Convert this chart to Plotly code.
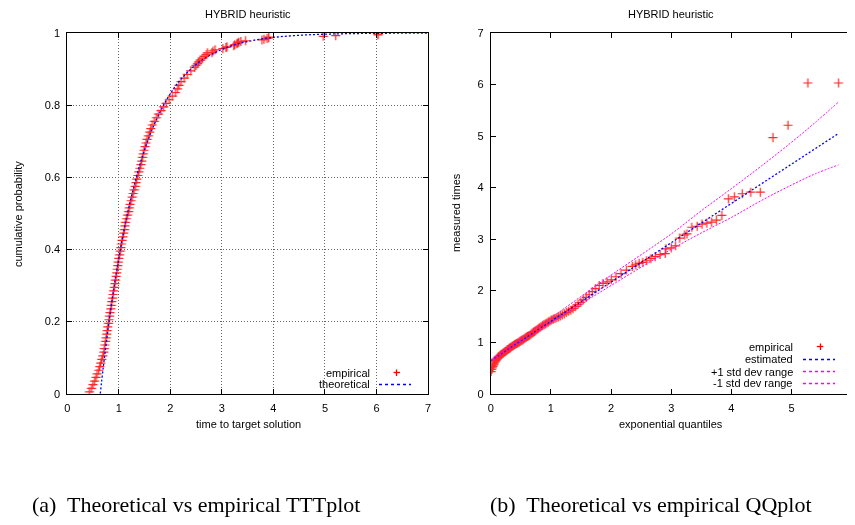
import plotly.graph_objects as go

# ---------------- data ----------------
# empirical run times (sorted), their cumulative probabilities and exponential quantiles
ttt_prob = [0.005, 0.015, 0.025, 0.035, 0.045, 0.055, 0.065, 0.075, 0.085, 0.095,
            0.105, 0.115, 0.125, 0.135, 0.145, 0.155, 0.165, 0.175, 0.185, 0.195,
            0.205, 0.215, 0.225, 0.235, 0.245, 0.255, 0.265, 0.275, 0.285, 0.295,
            0.305, 0.315, 0.325, 0.335, 0.345, 0.355, 0.365, 0.375, 0.385, 0.395,
            0.405, 0.415, 0.425, 0.435, 0.445, 0.455, 0.465, 0.475, 0.485, 0.495,
            0.505, 0.515, 0.525, 0.535, 0.545, 0.555, 0.565, 0.575, 0.585, 0.595,
            0.605, 0.615, 0.625, 0.635, 0.645, 0.655, 0.665, 0.675, 0.685, 0.695,
            0.705, 0.715, 0.725, 0.735, 0.745, 0.755, 0.765, 0.775, 0.785, 0.795,
            0.805, 0.815, 0.825, 0.835, 0.845, 0.855, 0.865, 0.875, 0.885, 0.895,
            0.905, 0.91, 0.915, 0.92, 0.925, 0.93, 0.935, 0.94, 0.945,
            0.9455, 0.9502, 0.9536, 0.9567, 0.9600, 0.9616, 0.9646, 0.9676, 0.9701, 0.9724,
            0.9745, 0.9765, 0.9785, 0.9807, 0.9826, 0.9847, 0.9867, 0.9887, 0.9908, 0.9928,
            0.9949, 0.9969]
ttt_time = [0.43, 0.47, 0.50, 0.53, 0.56, 0.58, 0.61, 0.63, 0.65, 0.67,
            0.69, 0.71, 0.72, 0.73, 0.745, 0.755, 0.765, 0.775, 0.785, 0.80,
            0.81, 0.82, 0.83, 0.845, 0.855, 0.865, 0.88, 0.89, 0.90, 0.915,
            0.925, 0.935, 0.95, 0.96, 0.97, 0.98, 0.99, 1.00, 1.015, 1.03,
            1.04, 1.05, 1.065, 1.08, 1.095, 1.11, 1.12, 1.13, 1.15, 1.17,
            1.19, 1.205, 1.22, 1.24, 1.26, 1.28, 1.30, 1.32, 1.335, 1.35,
            1.37, 1.39, 1.41, 1.43, 1.445, 1.46, 1.475, 1.49, 1.51, 1.53,
            1.55, 1.575, 1.60, 1.62, 1.65, 1.69, 1.73, 1.77, 1.82, 1.87,
            1.92, 1.98, 2.04, 2.10, 2.14, 2.17, 2.21, 2.27, 2.33, 2.40,
            2.47, 2.50, 2.53, 2.55, 2.58, 2.62, 2.66, 2.70, 2.72,
            2.81, 2.83, 2.87, 3.02, 3.08, 3.10, 3.23, 3.25, 3.29, 3.31,
            3.33, 3.37, 3.46, 3.78, 3.82, 3.88, 3.91, 3.91, 4.97, 5.21,
            6.03, 6.03]
qq_quantile = [0.005, 0.015, 0.025, 0.036, 0.046, 0.057, 0.067, 0.078, 0.089, 0.100,
               0.111, 0.122, 0.134, 0.145, 0.157, 0.168, 0.180, 0.192, 0.205, 0.217,
               0.229, 0.242, 0.255, 0.268, 0.281, 0.294, 0.308, 0.322, 0.335, 0.350,
               0.364, 0.378, 0.393, 0.408, 0.423, 0.439, 0.454, 0.470, 0.486, 0.503,
               0.519, 0.536, 0.553, 0.571, 0.589, 0.607, 0.625, 0.644, 0.664, 0.683,
               0.703, 0.724, 0.744, 0.766, 0.787, 0.810, 0.832, 0.856, 0.879, 0.904,
               0.929, 0.955, 0.981, 1.008, 1.036, 1.064, 1.094, 1.124, 1.155, 1.187,
               1.221, 1.255, 1.291, 1.328, 1.366, 1.407, 1.448, 1.492, 1.537, 1.585,
               1.635, 1.687, 1.743, 1.802, 1.864, 1.931, 2.002, 2.079, 2.163, 2.254,
               2.354, 2.408, 2.465, 2.526, 2.590, 2.659, 2.733, 2.813, 2.900,
               2.91, 3.00, 3.07, 3.14, 3.22, 3.26, 3.34, 3.43, 3.51, 3.59,
               3.67, 3.75, 3.84, 3.95, 4.05, 4.18, 4.32, 4.48, 4.69, 4.94,
               5.27, 5.78]

# theoretical (fitted shifted exponential) distribution
theory_time = [0.64, 0.7, 0.8, 0.9, 1.0, 1.1, 1.2, 1.4, 1.6, 1.8, 2.0, 2.2, 2.5,
               2.8, 3.2, 3.6, 4.0, 4.5, 5.0, 5.5, 6.0, 6.5, 7.0]
theory_prob = [0.0, 0.0756, 0.189, 0.289, 0.376, 0.453, 0.520, 0.631, 0.716, 0.781,
               0.832, 0.871, 0.9127, 0.9410, 0.9651, 0.9793, 0.9878, 0.99365, 0.9967,
               0.99829, 0.99911, 0.99954, 0.99976]

# QQ plot: estimated line and +/- 1 std dev range
est_quantile = [0.0, 5.78]
est_time = [0.64, 5.05]
std_quantile = [0.0, 1.0, 2.0, 3.0, 3.5, 4.0, 4.5, 5.0, 5.4, 5.78]
upper_time = [0.66, 1.47, 2.30, 3.10, 3.55, 3.98, 4.42, 4.88, 5.27, 5.66]
lower_time = [0.64, 1.38, 2.10, 2.80, 3.12, 3.42, 3.75, 4.05, 4.27, 4.44]

# ---------------- figure ----------------
# the page has an 8px body margin, so the figure is drawn 8px smaller and all
# positions below are given in window pixels
OFF = 8
W, H = 855 - OFF, 525 - OFF
def px(x):
    return (x - OFF) / W
def py(y):
    return 1 - (y - OFF) / H

SANS = "Liberation Sans, Arial, sans-serif"
SERIF = "Liberation Serif, Times New Roman, serif"
MAG_DASH = "2px,1.5px"
BLUE_DASH = "2px,2px"

fig = go.Figure()

cross = dict(symbol="cross-thin", size=6.5, color="#ff0000",
             line=dict(color="#ff0000", width=1.2))

fig.add_trace(go.Scatter(x=ttt_time, y=ttt_prob, mode="markers", marker=cross,
                         opacity=0.85, xaxis="x", yaxis="y", showlegend=False))
fig.add_trace(go.Scatter(x=theory_time, y=theory_prob, mode="lines",
                         line=dict(color="#0000ff", dash=BLUE_DASH, width=1.3, shape="spline"),
                         xaxis="x", yaxis="y", showlegend=False))

fig.add_trace(go.Scatter(x=qq_quantile, y=ttt_time, mode="markers", marker=cross,
                         opacity=0.85, xaxis="x2", yaxis="y2", showlegend=False))
fig.add_trace(go.Scatter(x=est_quantile, y=est_time, mode="lines",
                         line=dict(color="#0000ff", dash=BLUE_DASH, width=1.3),
                         xaxis="x2", yaxis="y2", showlegend=False))
fig.add_trace(go.Scatter(x=std_quantile, y=upper_time, mode="lines",
                         line=dict(color="#ff00ff", dash=MAG_DASH, width=1, shape="spline"),
                         xaxis="x2", yaxis="y2", showlegend=False))
fig.add_trace(go.Scatter(x=std_quantile, y=lower_time, mode="lines",
                         line=dict(color="#ff00ff", dash=MAG_DASH, width=1, shape="spline"),
                         xaxis="x2", yaxis="y2", showlegend=False))

axis_common = dict(showline=True, linecolor="black", linewidth=1, mirror="ticks",
                   ticks="inside", ticklen=5, tickcolor="black", zeroline=False,
                   automargin=False,
                   tickfont=dict(family=SANS, size=11, color="black"),
                   ticklabelstandoff=4)

grid = dict(showgrid=True, gridcolor="#666666", griddash="1px,2px", gridwidth=1)

ydom = [py(393.7), py(33)]
fig.update_layout(
    template="none",
    width=W, height=H, margin=dict(l=0, r=0, t=0, b=0, pad=0, autoexpand=False),
    paper_bgcolor="white", plot_bgcolor="white",
    font=dict(family=SANS, size=11, color="black"),
    xaxis=dict(domain=[px(67.3), px(428)], range=[0, 7], dtick=1, anchor="y",
               **grid, **axis_common),
    yaxis=dict(domain=ydom, range=[0, 1], dtick=0.2, anchor="x",
               **grid, **axis_common),
    xaxis2=dict(domain=[px(490.7), px(851.7)], range=[0, 6], dtick=1, anchor="y2",
                tickvals=[0, 1, 2, 3, 4, 5], showgrid=False, **axis_common),
    yaxis2=dict(domain=ydom, range=[0, 7], dtick=1, anchor="x2",
                showgrid=False, **axis_common),
)

ann = []
def text(x, y, s, size=11, xanchor="center", family=SANS, angle=0):
    ann.append(dict(x=px(x), y=py(y), xref="paper", yref="paper", text=s,
                    showarrow=False, xanchor=xanchor, yanchor="middle",
                    font=dict(family=family, size=size, color="black"),
                    textangle=angle))

# titles and axis titles
text(248, 14, "HYBRID heuristic")
text(671, 14, "HYBRID heuristic")
text(248, 424, "time to target solution")
text(671, 424, "exponential quantiles")
text(18, 214, "cumulative probability", angle=-90)
text(456, 213, "measured times", angle=-90)

# last x tick label of the QQ plot (cut by the right edge, as in the reference)
text(851.7, 406.5, "6", xanchor="left")
ann[-1]["xshift"] = -3

# legends
text(372, 372.7, "empirical", xanchor="right")
text(372, 384, "theoretical", xanchor="right")
text(795, 346.7, "empirical", xanchor="right")
text(795, 359.3, "estimated", xanchor="right")
text(795, 371.7, "+1 std dev range", xanchor="right")
text(795, 383.3, "-1 std dev range", xanchor="right")

# captions
text(30, 504, "(a)\u00a0 Theoretical vs empirical TTTplot", size=22, xanchor="left", family=SERIF)
text(488, 504, "(b)\u00a0 Theoretical vs empirical QQplot", size=22, xanchor="left", family=SERIF)

shapes = []
def seg(x0, y0, x1, y1, color, dash="solid", width=1.2):
    shapes.append(dict(type="line", xref="paper", yref="paper",
                       x0=px(x0), y0=py(y0), x1=px(x1), y1=py(y1),
                       line=dict(color=color, dash=dash, width=width)))

# white box behind left legend (hides grid)
shapes.append(dict(type="rect", xref="paper", yref="paper", layer="below",
                   x0=px(312), x1=px(425), y0=py(391), y1=py(364),
                   fillcolor="white", line=dict(width=0)))
# left legend samples
seg(393.5, 372.5, 400, 372.5, "#ff0000", width=1.3)
seg(396.5, 369.5, 396.5, 376, "#ff0000", width=1.3)
seg(379, 384.5, 411, 384.5, "#0000ff", dash="dot", width=1.3)
# right legend samples
seg(816.8, 346.5, 823.3, 346.5, "#ff0000", width=1.3)
seg(820.5, 343.5, 820.5, 350, "#ff0000", width=1.3)
seg(803, 359.5, 835, 359.5, "#0000ff", dash="dot", width=1.3)
seg(803, 371.5, 835, 371.5, "#ff00ff", dash="dot", width=1.3)
seg(803, 383.5, 835, 383.5, "#ff00ff", dash="dot", width=1.3)

fig.update_layout(annotations=ann, shapes=shapes)

fig.write_html("out.html", config={"displayModeBar": False})
